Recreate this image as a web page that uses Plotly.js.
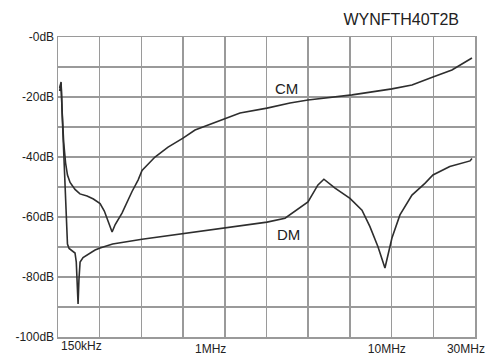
<!DOCTYPE html>
<html>
<head>
<meta charset="utf-8">
<script src="https://cdn.plot.ly/plotly-3.0.1.min.js"></script>
<style>html,body{margin:0;padding:0;background:#fff;}#chart{width:499px;height:356px;}</style>
</head>
<body>
<div id="chart"></div>
<script>
// Frequencies in Hz, attenuation in dB
const cmFreq = [153e3,155.8e3,158e3,161e3,165e3,169e3,174.7e3,186e3,198e3,216.8e3,235e3,255.8e3,270e3,285e3,298e3,310e3,338e3,384e3,414.6e3,436e3,514e3,607e3,734e3,855e3,996e3,1.252e6,1.515e6,2.135e6,2.86e6,3.594e6,5.4e6,6.3e6,10.45e6,13.48e6,17.6e6,22.4e6,28.9e6];
const cmDb   = [-18,-15.5,-25,-35,-42,-46,-48.5,-50.8,-52.3,-53,-54,-55.5,-58,-62,-65,-62.5,-58.7,-51.5,-47.7,-44.5,-40,-36.7,-33.7,-31,-29.5,-27,-25.3,-23.7,-22,-21,-19.8,-19.3,-17.3,-16,-13.3,-11,-7];

const dmFreq = [153e3,155.8e3,157.8e3,160e3,163.9e3,167e3,169e3,172.5e3,180e3,186e3,189e3,191e3,193.4e3,195.5e3,198.4e3,206e3,216.8e3,240e3,255.8e3,300e3,436e3,855e3,1.252e6,2.135e6,2.684e6,3.166e6,3.594e6,4.08e6,4.4e6,5.07e6,6.13e6,7.14e6,7.9e6,8.75e6,9.56e6,10.45e6,11.57e6,13.48e6,15.89e6,17.6e6,21.8e6,28.2e6,28.9e6];
const dmDb   = [-17,-15,-25,-35,-50,-62,-69,-70.5,-71.3,-72,-75,-80,-89,-81,-75,-73.5,-72.7,-71,-70.3,-69,-67.4,-65,-63.7,-61.7,-60.4,-57.4,-55,-49.3,-47.4,-50.4,-53.8,-57.7,-63.2,-69.9,-77,-67,-59.3,-52.7,-48.8,-46,-43.2,-41.3,-40.5];

const xTickValsLeft = [150e3];
const xTickTextLeft = ['150kHz'];
const xTickVals = [1e6, 10e6];
const xTickText = ['1MHz', '10MHz'];
const xTickValsRight = [30e6];
const xTickTextRight = ['30MHz'];
const yTickVals = [0,-10,-20,-30,-40,-50,-60,-70,-80,-90,-100];
const yTickText = ['-0dB','','-20dB','','-40dB','','-60dB','','-80dB','','-100dB'];
const seriesNames = ['CM', 'DM'];
const chartTitle = 'WYNFTH40T2B';

const NB = '\u00a0';
const pad = [[2,0],[0,1]];
const xText = xTickText.map((t,i)=>NB.repeat(pad[i][0]) + t + NB.repeat(pad[i][1]));

const gridCol = '#9a9a9a';
const lineCol = '#2e2e2e';
const font = 'Liberation Sans, Arial, Helvetica, sans-serif';
const xRange = [Math.log10(150e3) - 0.0005, Math.log10(30e6) + 0.0005];

const traces = [
  {x: cmFreq, y: cmDb, name: seriesNames[0], type:'scatter', mode:'lines', line:{color:lineCol, width:1.6}, xaxis:'x', yaxis:'y'},
  {x: dmFreq, y: dmDb, name: seriesNames[1], type:'scatter', mode:'lines', line:{color:lineCol, width:1.6}, xaxis:'x', yaxis:'y'},
  {x: [0,10], y: [null,null], type:'scatter', mode:'lines', xaxis:'x2', yaxis:'y', showlegend:false, hoverinfo:'skip'},
  {x: [150e3,30e6], y: [null,null], type:'scatter', mode:'lines', xaxis:'x3', yaxis:'y', showlegend:false, hoverinfo:'skip'},
  {x: [150e3,30e6], y: [null,null], type:'scatter', mode:'lines', xaxis:'x4', yaxis:'y', showlegend:false, hoverinfo:'skip'}
];

const tickFont = {size:12, family:font, color:'#222'};
const layout = {
  width: 499, height: 356,
  margin: {l:58, r:24, t:37, b:19, pad:0},
  paper_bgcolor:'#fff', plot_bgcolor:'#fff',
  showlegend:false,
  font:{family:font, size:12, color:'#222'},
  title:{text:chartTitle, font:{family:font, size:16, color:'#222'}, xref:'container', x:459/499, xanchor:'right', yref:'container', y:1-19/356, yanchor:'middle'},
  xaxis:{type:'log', range:xRange, tickmode:'array', tickvals:xTickVals, ticktext:xText, ticklabeloverflow:'allow',
         showgrid:false, zeroline:false, showline:true, mirror:true, linecolor:gridCol, linewidth:1.5, ticks:'', tickfont:tickFont},
  xaxis3:{type:'log', overlaying:'x', side:'bottom', range:xRange, tickmode:'array', tickvals:xTickValsLeft, ticktext:xTickTextLeft,
          ticklabelposition:'outside right', ticklabelshift:3, ticklabeloverflow:'allow', showgrid:false, zeroline:false, showline:false, ticks:'', tickfont:tickFont},
  xaxis4:{type:'log', overlaying:'x', side:'bottom', range:xRange, tickmode:'array', tickvals:xTickValsRight, ticktext:xTickTextRight,
          ticklabelposition:'outside left', ticklabelshift:10, ticklabelstandoff:3, ticklabeloverflow:'allow', showgrid:false, zeroline:false, showline:false, ticks:'', tickfont:tickFont},
  xaxis2:{overlaying:'x', range:[0,10], tickmode:'linear', dtick:1, showgrid:true, gridcolor:gridCol, gridwidth:1.5,
          showticklabels:false, zeroline:false, showline:false, ticks:''},
  yaxis:{range:[-100,0], tickmode:'array', tickvals:yTickVals, ticktext:yTickText, showgrid:true, gridcolor:gridCol, gridwidth:1.5,
         zeroline:false, showline:true, mirror:true, linecolor:gridCol, linewidth:1.5, ticks:'', tickfont:tickFont},
  annotations:[
    {text:seriesNames[0], xref:'paper', yref:'y', x:(286-58)/417, y:-17.3, showarrow:false, font:{family:font, size:15, color:'#222'}},
    {text:seriesNames[1], xref:'paper', yref:'y', x:(288-58)/417, y:-65.7, showarrow:false, font:{family:font, size:15, color:'#222'}}
  ]
};

Plotly.newPlot('chart', traces, layout, {displayModeBar:false, staticPlot:true});
</script>
</body>
</html>
